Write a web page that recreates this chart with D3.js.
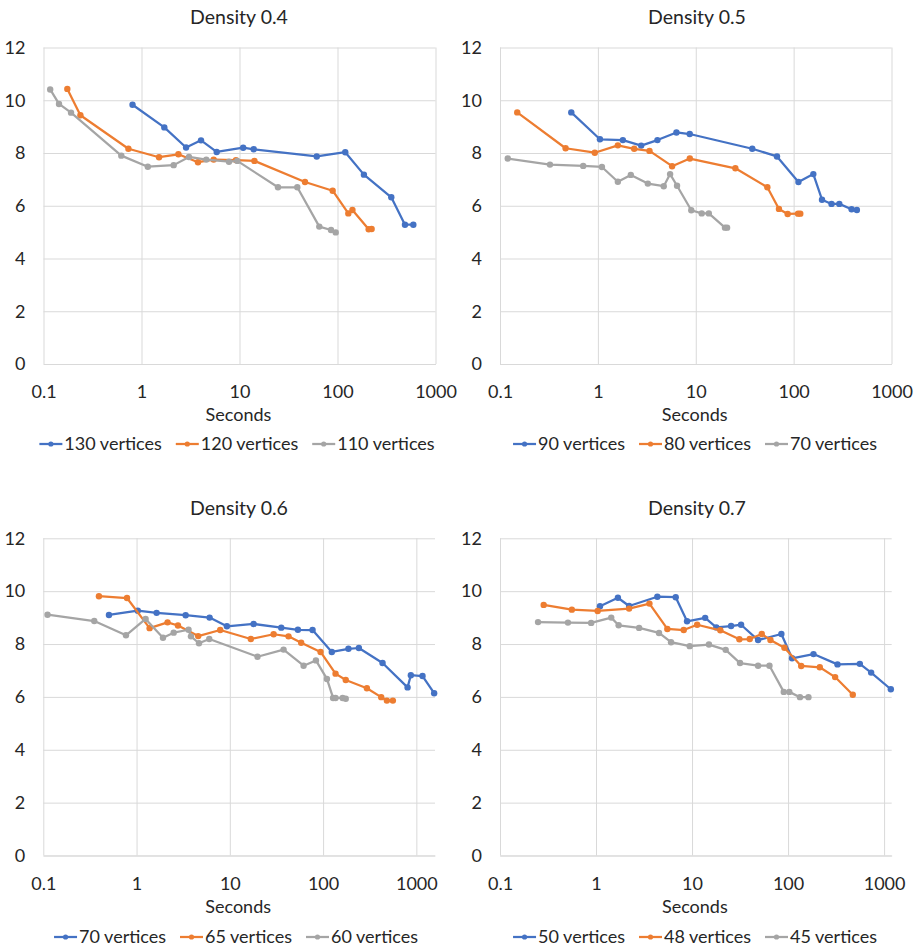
<!DOCTYPE html>
<html>
<head>
<meta charset="utf-8">
<script src="https://cdn.jsdelivr.net/npm/d3@7"></script>
<style>
  html, body { margin: 0; padding: 0; background: #fff; }
  svg { display: block; font-family: Lato, "Open Sans", sans-serif; }
</style>
</head>
<body>
<svg id="chart" width="917" height="950"></svg>
<script>
// ---------- DATA ----------
const titles = ["Density 0.4", "Density 0.5", "Density 0.6", "Density 0.7"];
const seriesNames = [
  ["130 vertices", "120 vertices", "110 vertices"],
  ["90 vertices", "80 vertices", "70 vertices"],
  ["70 vertices", "65 vertices", "60 vertices"],
  ["50 vertices", "48 vertices", "45 vertices"]
];
const xAxisTitle = "Seconds";
const xTicks = [0.1, 1, 10, 100, 1000];
const xTickLabels = ["0.1", "1", "10", "100", "1000"];
const yTicks = [0, 2, 4, 6, 8, 10, 12];
const xMin = 0.1;
const xMaxes = [1000, 1000, 1585, 1200];
const yMax = 12;

// [seconds, value]
const d04_130 = [[0.81,9.83],[1.71,8.97],[2.85,8.21],[4.05,8.48],[5.85,8.04],[10.9,8.20],[13.96,8.14],[61.4,7.87],[120,8.03],[186,7.18],[354,6.32],[488,5.28],[594,5.28]];
const d04_120 = [[0.175,10.43],[0.238,9.43],[0.735,8.16],[1.51,7.84],[2.38,7.95],[3.77,7.65],[5.45,7.75],[9.2,7.73],[14.2,7.70],[46.6,6.90],[89.3,6.57],[129,5.71],[142,5.84],[208,5.11],[223,5.12]];
const d04_110 = [[0.117,10.41],[0.144,9.86],[0.191,9.53],[0.622,7.90],[1.16,7.48],[2.13,7.54],[3.05,7.85],[4.58,7.75],[7.81,7.67],[9.5,7.70],[24.7,6.70],[38.9,6.70],[65.2,5.21],[85.9,5.08],[95.9,4.99]];

const d05_90 = [[0.535,9.54],[1.05,8.52],[1.80,8.49],[2.77,8.28],[4.06,8.49],[6.35,8.78],[8.68,8.72],[37.8,8.16],[67.6,7.87],[112,6.90],[159,7.20],[195,6.23],[244,6.07],[293,6.07],[391,5.87],[443,5.84]];
const d05_80 = [[0.150,9.54],[0.468,8.18],[0.93,8.01],[1.60,8.29],[2.35,8.16],[3.37,8.08],[5.73,7.50],[8.7,7.79],[25.4,7.42],[53.9,6.70],[70.8,5.88],[86.9,5.69],[111,5.70],[117,5.70]];
const d05_70 = [[0.120,7.79],[0.324,7.56],[0.708,7.51],[1.10,7.47],[1.60,6.91],[2.17,7.17],[3.24,6.84],[4.71,6.74],[5.47,7.20],[6.44,6.76],[9.0,5.83],[11.5,5.71],[13.6,5.71],[19.9,5.17],[20.9,5.17]];

const d06_70 = [[0.506,9.10],[1.03,9.26],[1.64,9.18],[3.36,9.09],[6.07,9.00],[9.3,8.67],[18.0,8.76],[35.6,8.62],[53.7,8.54],[77.1,8.53],[124,7.70],[187,7.82],[242,7.85],[434,7.28],[805,6.36],[873,6.82],[1165,6.79],[1552,6.14]];
const d06_65 = [[0.395,9.81],[0.79,9.74],[1.38,8.60],[2.15,8.82],[2.78,8.70],[4.58,8.30],[7.89,8.53],[16.8,8.19],[29.5,8.37],[42.6,8.29],[58.2,8.05],[94,7.70],[136,6.88],[175,6.64],[295,6.33],[420,5.99],[483,5.86],[560,5.86]];
const d06_60 = [[0.111,9.11],[0.352,8.87],[0.77,8.33],[1.25,8.95],[1.92,8.24],[2.50,8.43],[3.61,8.54],[3.83,8.29],[4.67,8.03],[6.02,8.19],[19.8,7.52],[37.7,7.79],[61.8,7.18],[83.8,7.38],[110,6.68],[128,5.96],[136,5.96],[162,5.96],[175,5.93]];

const d07_50 = [[1.10,9.43],[1.69,9.75],[2.21,9.44],[4.35,9.79],[6.76,9.77],[8.87,8.86],[13.7,8.99],[17.9,8.63],[25.5,8.68],[32.4,8.73],[48.7,8.15],[85.2,8.38],[110,7.46],[184,7.62],[327,7.23],[559,7.25],[733,6.92],[1175,6.29]];
const d07_48 = [[0.285,9.48],[0.56,9.30],[1.04,9.25],[2.21,9.34],[3.60,9.53],[5.53,8.57],[8.19,8.53],[11.3,8.73],[19.7,8.52],[31.1,8.18],[39.9,8.19],[53.2,8.38],[65.5,8.15],[91.6,7.86],[137,7.17],[214,7.12],[309,6.75],[472,6.08]];
const d07_45 = [[0.249,8.83],[0.51,8.81],[0.89,8.80],[1.44,9.00],[1.72,8.71],[2.81,8.61],[4.53,8.42],[6.04,8.07],[9.46,7.92],[15.0,7.98],[22.4,7.78],[31.6,7.28],[48.7,7.18],[64,7.18],[90.2,6.19],[103,6.19],[133,5.99],[163,5.99]];

const panelData = [
  [d04_130, d04_120, d04_110],
  [d05_90, d05_80, d05_70],
  [d06_70, d06_65, d06_60],
  [d07_50, d07_48, d07_45]
];

// ---------- STYLE / LAYOUT ----------
const colors = ["#4472C4", "#ED7D31", "#A5A5A5"];
const textColor = "#262626";
const gridColor = "#D9D9D9";
const plots = [
  {left: 43.5, right: 435.5, top: 47.5, bottom: 364, cx: 239, titleY: 17, legendCx: 237},
  {left: 500, right: 891.5, top: 47.5, bottom: 364, cx: 697, titleY: 17, legendCx: 695},
  {left: 43.3, right: 435, top: 538.3, bottom: 855.5, cx: 239, titleY: 508, legendCx: 236},
  {left: 500, right: 891.7, top: 538.3, bottom: 855.5, cx: 697, titleY: 508, legendCx: 695}
];

const svg = d3.select("#chart");

plots.forEach((p, i) => {
  const g = svg.append("g");
  const x = d3.scaleLog().domain([xMin, xMaxes[i]]).range([p.left, p.right]);
  const y = d3.scaleLinear().domain([0, yMax]).range([p.bottom, p.top]);

  // horizontal gridlines
  g.append("g").attr("transform", `translate(${p.left},0)`)
    .call(d3.axisLeft(y).tickValues(yTicks).tickSize(-(p.right - p.left)).tickFormat(""))
    .call(a => a.select(".domain").remove())
    .call(a => a.selectAll("line").attr("stroke", gridColor).attr("stroke-width", 1));

  // vertical gridlines
  g.append("g").attr("transform", `translate(0,${p.bottom})`)
    .call(d3.axisBottom(x).tickValues(xTicks).tickSize(-(p.bottom - p.top)).tickFormat(""))
    .call(a => a.select(".domain").remove())
    .call(a => a.selectAll("line").attr("stroke", gridColor).attr("stroke-width", 1));

  // y labels
  g.append("g").attr("transform", `translate(${p.left},0)`)
    .call(d3.axisLeft(y).tickValues(yTicks).tickSize(0).tickPadding(18).tickFormat(d3.format("d")))
    .call(a => a.select(".domain").remove())
    .call(a => a.selectAll("text").attr("fill", textColor).style("font-size", "18px")
      .style("font-family", "Lato, sans-serif"));

  // x labels + axis line
  g.append("g").attr("transform", `translate(0,${p.bottom})`)
    .call(d3.axisBottom(x).tickValues(xTicks).tickSize(0).tickPadding(0)
      .tickFormat((d, k) => xTickLabels[k]))
    .call(a => a.select(".domain").attr("stroke", gridColor).attr("stroke-width", 1))
    .call(a => a.selectAll("text").attr("fill", textColor).style("font-size", "18px")
      .style("font-family", "Lato, sans-serif")
      .attr("y", 28).attr("dy", "0.35em"));

  // axis title
  g.append("text").attr("x", (p.left + p.right) / 2 - 1).attr("y", p.bottom + 51)
    .attr("dy", "0.35em").attr("text-anchor", "middle")
    .attr("fill", textColor).style("font-size", "18px").text(xAxisTitle);

  // chart title
  g.append("text").attr("x", p.cx).attr("y", p.titleY).attr("dy", "0.35em")
    .attr("text-anchor", "middle").attr("fill", textColor).style("font-size", "19.5px")
    .text(titles[i]);

  // series
  const line = d3.line().x(d => x(d[0])).y(d => y(d[1]));
  panelData[i].forEach((s, k) => {
    const sg = g.append("g");
    sg.append("path").datum(s).attr("d", line).attr("fill", "none")
      .attr("stroke", colors[k]).attr("stroke-width", 2.25).attr("stroke-linejoin", "round");
    sg.selectAll("circle").data(s).join("circle")
      .attr("cx", d => x(d[0])).attr("cy", d => y(d[1])).attr("r", 3.2)
      .attr("fill", colors[k]);
  });

  // legend
  const lg = g.append("g");
  const items = seriesNames[i].map((name, k) => {
    const it = lg.append("g");
    it.append("line").attr("x1", 0).attr("x2", 23).attr("y1", 0).attr("y2", 0)
      .attr("stroke", colors[k]).attr("stroke-width", 2.25);
    it.append("circle").attr("cx", 11.5).attr("cy", 0).attr("r", 2.6).attr("fill", colors[k]);
    const t = it.append("text").attr("x", 25).attr("dy", "0.35em").attr("fill", textColor)
      .style("font-size", "18px").text(name);
    return {it, w: 25 + t.node().getComputedTextLength()};
  });
  const gap = 14;
  const total = d3.sum(items, d => d.w) + gap * (items.length - 1);
  let cur = p.legendCx - total / 2;
  const ly = p.bottom + (i < 2 ? 80 : 81.5);
  items.forEach(d => {
    d.it.attr("transform", `translate(${cur},${ly})`);
    cur += d.w + gap;
  });
});
</script>
</body>
</html>
